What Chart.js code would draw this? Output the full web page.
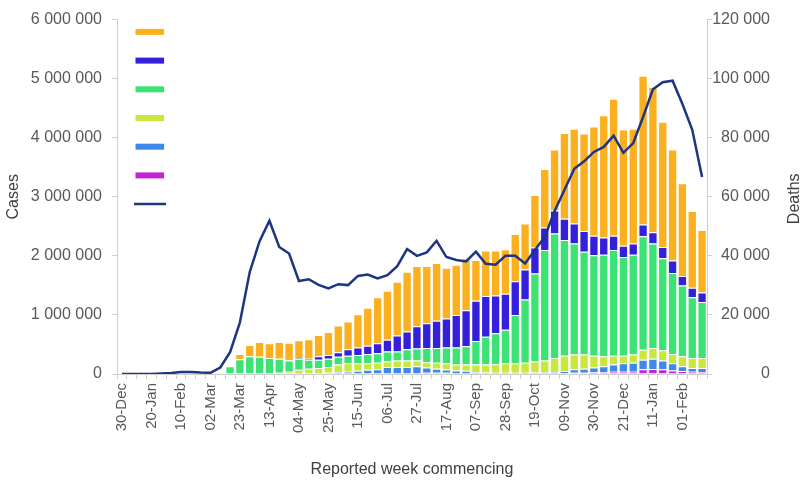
<!DOCTYPE html>
<html>
<head>
<meta charset="utf-8">
<script src="https://cdn.jsdelivr.net/npm/chart.js@4.4.1/dist/chart.umd.min.js"></script>
<style>
  html, body { margin: 0; padding: 0; background: #fff; }
  #wrap { width: 805px; height: 481px; position: relative; }
</style>
</head>
<body>
<div id="wrap"><canvas id="chart"></canvas></div>
<script>
// Semanas (segunda-feira) de 30-Dec-2019 a 15-Feb-2021
const weeks = [
  '30-Dec', '06-Jan', '13-Jan', '20-Jan', '27-Jan', '03-Feb', '10-Feb', '17-Feb', '24-Feb', '02-Mar',
  '09-Mar', '16-Mar', '23-Mar', '30-Mar', '06-Apr', '13-Apr', '20-Apr', '27-Apr', '04-May', '11-May',
  '18-May', '25-May', '01-Jun', '08-Jun', '15-Jun', '22-Jun', '29-Jun', '06-Jul', '13-Jul', '20-Jul',
  '27-Jul', '03-Aug', '10-Aug', '17-Aug', '24-Aug', '31-Aug', '07-Sep', '14-Sep', '21-Sep', '28-Sep',
  '05-Oct', '12-Oct', '19-Oct', '26-Oct', '02-Nov', '09-Nov', '16-Nov', '23-Nov', '30-Nov', '07-Dec',
  '14-Dec', '21-Dec', '28-Dec', '04-Jan', '11-Jan', '18-Jan', '25-Jan', '01-Feb', '08-Feb', '15-Feb'
];

// Casos por grupo (empilhados de baixo para cima)
const casesMagenta = [
  0, 0, 0, 0, 0, 0, 0, 0, 0, 0,
  0, 0, 0, 0, 0, 0, 0, 0, 0, 0,
  0, 0, 0, 0, 0, 0, 0, 0, 0, 0,
  10000, 20000, 20000, 20000, 10000, 10000, 10000, 10000, 10000, 10000,
  10000, 10000, 10000, 10000, 10000, 15000, 20000, 20000, 25000, 30000,
  40000, 40000, 40000, 80000, 85000, 80000, 60000, 50000, 40000, 35000
];
const casesBlue = [
  0, 0, 0, 0, 0, 0, 0, 0, 0, 0,
  0, 0, 0, 0, 0, 0, 0, 0, 5000, 10000,
  10000, 20000, 30000, 40000, 55000, 70000, 80000, 120000, 120000, 120000,
  120000, 90000, 70000, 55000, 50000, 45000, 20000, 15000, 10000, 10000,
  10000, 10000, 15000, 20000, 25000, 35000, 60000, 70000, 85000, 100000,
  120000, 140000, 150000, 160000, 175000, 150000, 120000, 80000, 60000, 65000
];
const casesLime = [
  0, 0, 0, 0, 0, 0, 0, 0, 0, 0,
  0, 0, 10000, 10000, 10000, 10000, 20000, 40000, 65000, 80000,
  90000, 100000, 130000, 140000, 125000, 110000, 110000, 90000, 110000, 110000,
  100000, 90000, 100000, 105000, 100000, 105000, 130000, 135000, 145000, 160000,
  160000, 170000, 185000, 200000, 235000, 260000, 250000, 240000, 200000, 170000,
  150000, 130000, 140000, 170000, 180000, 170000, 160000, 170000, 170000, 170000
];
const casesGreen = [
  0, 0, 0, 0, 0, 0, 0, 0, 0, 0,
  20000, 130000, 240000, 290000, 280000, 260000, 240000, 190000, 190000, 150000,
  140000, 140000, 130000, 130000, 140000, 160000, 160000, 170000, 150000, 190000,
  200000, 240000, 250000, 270000, 290000, 310000, 400000, 470000, 525000, 570000,
  820000, 1070000, 1490000, 1870000, 2110000, 1960000, 1880000, 1740000, 1700000, 1720000,
  1790000, 1670000, 1690000, 1920000, 1770000, 1560000, 1370000, 1200000, 1030000, 950000
];
const casesIndigo = [
  0, 0, 0, 0, 0, 0, 0, 0, 0, 0,
  0, 0, 0, 0, 0, 0, 0, 5000, 10000, 20000,
  60000, 60000, 80000, 110000, 130000, 140000, 170000, 200000, 270000, 300000,
  380000, 420000, 460000, 490000, 550000, 610000, 680000, 690000, 640000, 610000,
  570000, 510000, 440000, 380000, 390000, 360000, 340000, 350000, 330000, 290000,
  240000, 190000, 190000, 200000, 190000, 190000, 210000, 160000, 160000, 160000
];
const casesOrange = [
  0, 0, 0, 0, 0, 0, 0, 0, 0, 0,
  0, 0, 90000, 190000, 250000, 250000, 280000, 295000, 300000, 330000,
  360000, 390000, 450000, 470000, 560000, 640000, 780000, 830000, 910000, 1010000,
  1020000, 970000, 980000, 860000, 850000, 880000, 690000, 770000, 760000, 750000,
  800000, 780000, 890000, 990000, 1030000, 1450000, 1600000, 1650000, 1850000, 2070000,
  2320000, 1970000, 1940000, 2520000, 2460000, 2120000, 1880000, 1570000, 1300000, 1060000
];

// Óbitos (eixo direito)
const deaths = [
  0, 0, 0, 0, 200, 300, 700, 700, 500, 400,
  2200, 7400, 17500, 34500, 45000, 51900, 43000, 40800, 31500, 32100,
  30200, 29000, 30400, 30100, 33200, 33700, 32400, 33500, 36500, 42300,
  40000, 41200, 45100, 39600, 38600, 38100, 41400, 37300, 37000, 40000,
  40000, 37400, 42000, 46400, 55200, 62300, 69500, 72000, 75200, 76900,
  80700, 74900, 78200, 87000, 96400, 98800, 99300, 91400, 82700, 66700
];

const casesTicks = [0, 1000000, 2000000, 3000000, 4000000, 5000000, 6000000];
const deathsTicks = [0, 20000, 40000, 60000, 80000, 100000, 120000];

const COLORS = {
  magenta: '#c322d6',
  blue: '#3d89ea',
  lime: '#c9e83c',
  green: '#3ce374',
  indigo: '#3420db',
  orange: '#fbb01f',
  line: '#1e3580'
};

const FONT_FAMILY = "'Liberation Sans', Arial, sans-serif";
const fmt = v => Number(v).toLocaleString('en-US').replace(/,/g, ' ');

function barSet(data, color) {
  return {
    type: 'bar',
    label: '',
    data: data,
    backgroundColor: color,
    borderColor: '#ffffff',
    borderWidth: 1,
    yAxisID: 'y',
    order: 1,
    stack: 'cases'
  };
}

/**
 * Legenda só com amostras de cor (sem texto), como no original
 */
const swatchLegend = {
  id: 'swatchLegend',
  afterDraw(chart) {
    const { ctx, chartArea } = chart;
    const ds = chart.data.datasets;
    const bars = ds.filter(d => d.type === 'bar').slice().reverse();
    const items = bars.concat(ds.filter(d => d.type === 'line'));
    const x0 = chartArea.left + 18.5;
    const w = 28.6;
    ctx.save();
    items.forEach((d, k) => {
      const cy = chartArea.top + 12.3 + k * 28.7;
      if (d.type === 'line') {
        ctx.strokeStyle = d.borderColor;
        ctx.lineWidth = 2.5;
        ctx.beginPath();
        ctx.moveTo(x0 - 1.5, cy);
        ctx.lineTo(x0 + w + 2, cy);
        ctx.stroke();
      } else {
        ctx.fillStyle = d.backgroundColor;
        ctx.fillRect(x0, cy - 3, w, 6);
      }
    });
    ctx.restore();
  }
};

/**
 * Título do eixo direito girado de baixo para cima (o Chart.js gira no outro sentido)
 */
const rightTitle = {
  id: 'rightTitle',
  afterDraw(chart) {
    const { ctx, chartArea } = chart;
    ctx.save();
    ctx.translate(chart.width - 10, (chartArea.top + chartArea.bottom) / 2 + 2);
    ctx.rotate(-Math.PI / 2);
    ctx.fillStyle = '#404040';
    ctx.font = '16px ' + FONT_FAMILY;
    ctx.textAlign = 'center';
    ctx.textBaseline = 'middle';
    ctx.fillText('Deaths', 0, 0);
    ctx.restore();
  }
};

const tickFont = { family: FONT_FAMILY, size: 16 };

new Chart(document.getElementById('chart'), {
  data: {
    labels: weeks,
    datasets: [
      {
        type: 'line',
        label: '',
        data: deaths,
        borderColor: COLORS.line,
        backgroundColor: COLORS.line,
        borderWidth: 2.5,
        pointRadius: 0,
        tension: 0,
        fill: false,
        yAxisID: 'y1',
        order: 0
      },
      barSet(casesMagenta, COLORS.magenta),
      barSet(casesBlue, COLORS.blue),
      barSet(casesLime, COLORS.lime),
      barSet(casesGreen, COLORS.green),
      barSet(casesIndigo, COLORS.indigo),
      barSet(casesOrange, COLORS.orange)
    ]
  },
  options: {
    responsive: true,
    maintainAspectRatio: false,
    animation: false,
    layout: { padding: { top: 10, left: 0, right: 35, bottom: 0 } },
    datasets: { bar: { categoryPercentage: 0.95, barPercentage: 1 } },
    plugins: {
      legend: { display: false },
      tooltip: { enabled: false }
    },
    scales: {
      x: {
        stacked: true,
        grid: { display: true, drawOnChartArea: false, drawTicks: true, tickLength: 5, color: '#cfcfcf' },
        border: { display: true, color: '#cfcfcf' },
        ticks: {
          autoSkip: false,
          minRotation: 90,
          maxRotation: 90,
          padding: 4,
          color: '#595959',
          font: { family: FONT_FAMILY, size: 15 },
          callback: (v, i) => (i % 3 === 0 ? weeks[i] : '')
        },
        title: {
          display: true,
          text: 'Reported week commencing',
          color: '#404040',
          font: tickFont,
          padding: { top: 4, bottom: 2 }
        },
        afterFit: s => { s.height = 107; }
      },
      y: {
        position: 'left',
        stacked: true,
        min: 0,
        max: 6000000,
        afterBuildTicks: s => { s.ticks = casesTicks.map(v => ({ value: v })); },
        grid: { display: true, drawOnChartArea: false, tickLength: 5, color: '#cfcfcf' },
        border: { display: true, color: '#cfcfcf' },
        ticks: { color: '#595959', font: tickFont, padding: 10, callback: v => fmt(v) },
        title: { display: true, text: 'Cases', color: '#404040', font: tickFont },
        afterFit: s => { s.width = 117; }
      },
      y1: {
        position: 'right',
        stacked: false,
        min: 0,
        max: 120000,
        afterBuildTicks: s => { s.ticks = deathsTicks.map(v => ({ value: v })); },
        grid: { display: true, drawOnChartArea: false, tickLength: 5, color: '#cfcfcf' },
        border: { display: true, color: '#cfcfcf' },
        ticks: { color: '#595959', font: tickFont, padding: 3, crossAlign: 'far', callback: v => fmt(v) },
        title: { display: false },
        afterFit: s => { s.width = 63; }
      }
    }
  },
  plugins: [swatchLegend, rightTitle]
});
</script>
</body>
</html>
